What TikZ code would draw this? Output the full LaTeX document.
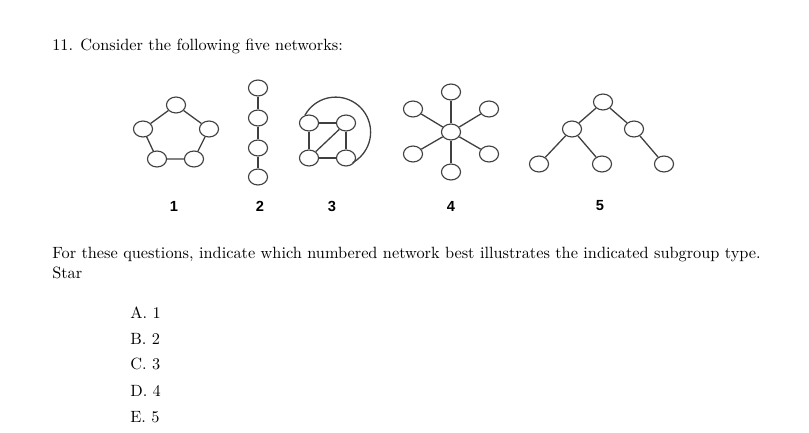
\documentclass[tikz,border=0pt]{standalone}
\usepackage{fontspec}
\newfontfamily\labelfont{Liberation Sans}
\usetikzlibrary{shapes.geometric}
\tikzset{
vertex/.style={ellipse,draw=black!75,line width=0.7pt,minimum width=11.7pt,minimum height=9.8pt,inner sep=0pt},
link/.style={draw=black!75,line width=0.8pt},
netlabel/.style={font=\labelfont\bfseries\fontsize{9}{10}\selectfont},
txt/.style={anchor=base west,inner sep=0pt},
}

\begin{document}
\begin{tikzpicture}[x=0.6135pt,y=0.6135pt]
\useasboundingbox (0,0) rectangle (809,-432);
\node[txt] (head) at (52,-50) {11. Consider the following five networks:};

% network 1
\node[vertex] (a1) at (176,-105) {};
\node[vertex] (a2) at (209,-129) {};
\node[vertex] (a3) at (194,-159) {};
\node[vertex] (a4) at (157,-159) {};
\node[vertex] (a5) at (143,-129) {};
\draw[link] (a1) -- (a2) -- (a3) -- (a4) -- (a5) -- (a1);
\node[netlabel] (lab1) at (174,-206) {1};

% network 2
\node[vertex] (b1) at (258,-88) {};
\node[vertex] (b2) at (258,-118) {};
\node[vertex] (b3) at (258,-148) {};
\node[vertex] (b4) at (258,-177) {};
\draw[link] (b1) -- (b2) -- (b3) -- (b4);
\node[netlabel] (lab2) at (260,-206) {2};

% network 3
\node[vertex] (c1) at (309,-123) {};
\node[vertex] (c2) at (346,-123) {};
\node[vertex] (c3) at (346,-158) {};
\node[vertex] (c4) at (309,-158) {};
\draw[link] (c1) -- (c2) -- (c3) -- (c4) -- (c1);
\draw[link] (c2) -- (c4);
\draw[link] (c1.117) arc[start angle=151,end angle=-61,radius=35];
\node[netlabel] (lab3) at (332,-206) {3};

% network 4
\node[vertex] (d0) at (451,-132) {};
\node[vertex] (d1) at (451,-92) {};
\node[vertex] (d2) at (489,-109) {};
\node[vertex] (d3) at (489,-154) {};
\node[vertex] (d4) at (451,-172) {};
\node[vertex] (d5) at (413,-154) {};
\node[vertex] (d6) at (413,-109) {};
\foreach \i in {1,...,6}
  \draw[link] (d0) -- (d\i);
\node[netlabel] (lab4) at (451,-206) {4};

% network 5
\node[vertex] (e1) at (603,-102) {};
\node[vertex] (e2) at (572,-129) {};
\node[vertex] (e3) at (634,-129) {};
\node[vertex] (e4) at (539,-164) {};
\node[vertex] (e5) at (602,-164) {};
\node[vertex] (e6) at (664,-164) {};
\draw[link] (e1) -- (e2);
\draw[link] (e1) -- (e3);
\draw[link] (e2) -- (e4);
\draw[link] (e2) -- (e5);
\draw[link] (e3) -- (e6);
\node[netlabel] (lab5) at (600,-206) {5};

\node[txt] (ask) at (52,-258) {For these questions, indicate which numbered network best illustrates the indicated subgroup type.};
\node[txt] (kind) at (52,-278) {Star};
\node[txt] (optA) at (130,-318) {A. 1};
\node[txt] (optB) at (130,-344) {B. 2};
\node[txt] (optC) at (130,-369) {C. 3};
\node[txt] (optD) at (130,-396) {D. 4};
\node[txt] (optE) at (130,-422) {E. 5};
\end{tikzpicture}
\end{document}
